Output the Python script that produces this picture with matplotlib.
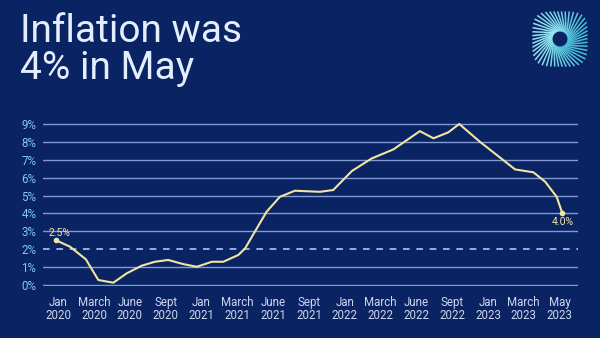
import numpy as np
import matplotlib
matplotlib.use("Agg")
import matplotlib.pyplot as plt

# ------------------------------------------------------
# Data
# ------------------------------------------------------

tick_labels = [
    "Jan\n2020", "March\n2020", "June\n2020", "Sept\n2020",
    "Jan\n2021", "March\n2021", "June\n2021", "Sept\n2021",
    "Jan\n2022", "March\n2022", "June\n2022", "Sept\n2022",
    "Jan\n2023", "March\n2023", "May\n2023",
]

# position along the label scale (0 = Jan 2020, 14 = May 2023)
period = [
    -0.06, 0.33, 0.77, 1.12, 1.54, 1.91, 2.33, 2.70, 3.07, 3.49,
    3.87, 4.29, 4.61, 5.03, 5.22, 5.49, 5.82, 6.19, 6.61, 7.31,
    7.68, 8.20, 8.75, 9.36, 10.10, 10.48, 10.89, 11.20, 11.78,
    12.76, 13.27, 13.60, 13.92, 14.08,
]

# annual inflation rate, %
rate = [
    2.5, 2.14, 1.44, 0.28, 0.13, 0.65, 1.08, 1.3, 1.4, 1.17,
    1.02, 1.3, 1.3, 1.68, 2.05, 2.98, 4.1, 4.93, 5.27, 5.21,
    5.31, 6.37, 7.07, 7.58, 8.6, 8.2, 8.53, 9.0, 8.0,
    6.46, 6.3, 5.77, 4.93, 4.0,
]

y_ticks = list(range(0, 10))
target = 2

# ------------------------------------------------------
# Style
# ------------------------------------------------------

BG = "#0a2463"
LINE = "#f3e4a0"
GRID = "#8299d4"
YTICK = "#80caf0"
XTICK = "#cdd6ef"
TITLE = "#e4eeff"

plt.rcParams["font.family"] = ["Roboto", "DejaVu Sans"]

fig = plt.figure(figsize=(6, 3.38), dpi=100, facecolor=BG)
ax = fig.add_axes([0.072, 0.1541, 0.891, 0.4817])
ax.set_facecolor(BG)

# ------------------------------------------------------
# Grid lines and the 2% target
# ------------------------------------------------------

for y in y_ticks:
    if y == target:
        continue
    ax.axhline(y, color=GRID, lw=1.0, zorder=1)
ax.axhline(target, color="#a9c8f2", lw=1.2, ls=(0, (4, 4)), zorder=1)

# ------------------------------------------------------
# Inflation line
# ------------------------------------------------------

ax.plot(period, rate, color=LINE, lw=1.5, solid_joinstyle="round",
        zorder=3, clip_on=False)
ax.plot([period[0], period[-1]], [rate[0], rate[-1]], "o", color=LINE,
        ms=3, zorder=4, clip_on=False)

ax.annotate(f"{rate[0]:.1f}%", (period[0], rate[0]), xytext=(2.2, 5.6),
            textcoords="offset points", ha="center", va="center",
            color=LINE, fontsize=7.5)
ax.annotate(f"{rate[-1]:.1f}%", (period[-1], rate[-1]), xytext=(0, -6.2),
            textcoords="offset points", ha="center", va="center",
            color=LINE, fontsize=7.5)

# ------------------------------------------------------
# Axes
# ------------------------------------------------------

ax.set_xlim(-0.42, 14.51)
ax.set_ylim(-0.05, 9.05)

ax.set_xticks(np.arange(len(tick_labels)))
ax.set_xticklabels(tick_labels, color=XTICK, fontsize=8.3, linespacing=1.0)
ax.set_yticks(y_ticks)
ax.set_yticklabels([f"{y}%" for y in y_ticks], color=YTICK, fontsize=8.3)
ax.tick_params(axis="x", length=0, pad=7.5)
ax.tick_params(axis="y", length=0, pad=5)

for spine in ax.spines.values():
    spine.set_visible(False)

# ------------------------------------------------------
# Title
# ------------------------------------------------------

fig.text(0.034, 0.962, "Inflation was\n4% in May", color=TITLE,
         fontsize=28, fontweight="normal", linespacing=1.02,
         ha="left", va="top")

# ------------------------------------------------------
# Logo swirl
# ------------------------------------------------------

logo = fig.add_axes([(560 - 30) / 600, 1 - (39 + 30) / 338, 60 / 600, 60 / 338])
logo.set_xlim(-1, 1)
logo.set_ylim(-1, 1)
logo.set_aspect("equal")
logo.axis("off")

n_spokes = 46
r_in = 0.26
twist = 0.7
for i in range(n_spokes):
    theta = 2 * np.pi * i / n_spokes
    end = theta + twist
    # rounded-square outline for the outer edge
    p = 4.0
    r_edge = 0.92 * (np.abs(np.cos(end)) ** p + np.abs(np.sin(end)) ** p) ** (-1 / p)
    xs = np.array([r_in * np.cos(theta), r_edge * np.cos(end)])
    ys = np.array([r_in * np.sin(theta), r_edge * np.sin(end)])
    shade = 0.5 + 0.5 * np.cos(theta - 2.4)
    col = (0.28 + 0.30 * shade, 0.74 + 0.16 * shade, 0.84 + 0.10 * shade)
    logo.plot(xs, ys, color=col, lw=1.1, solid_capstyle="butt")

fig.savefig("out.png", dpi=100, facecolor=BG)
